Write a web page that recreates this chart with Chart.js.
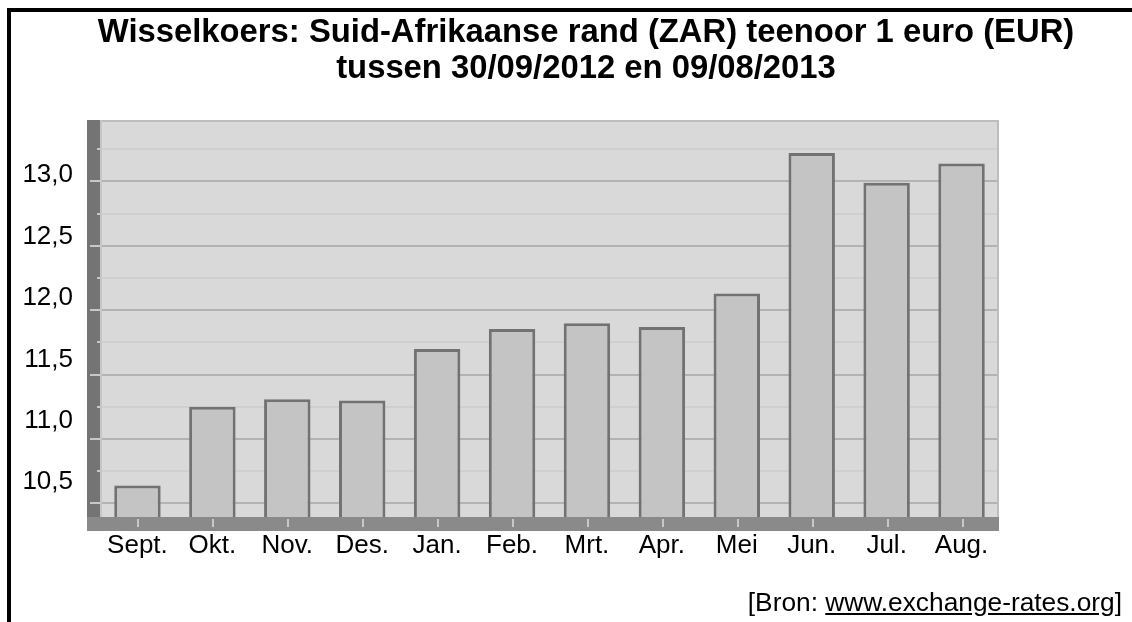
<!DOCTYPE html>
<html>
<head>
<meta charset="utf-8">
<script src="https://cdn.jsdelivr.net/npm/chart.js@4.4.1/dist/chart.umd.min.js"></script>
<style>
html,body{margin:0;padding:0;background:#fff;}
#wrap{position:relative;width:1132px;height:622px;overflow:hidden;font-family:"Liberation Sans",Arial,sans-serif;color:#000;}
#frame{position:absolute;left:7px;top:8px;width:1200px;height:700px;border-top:4px solid #000;border-left:4px solid #000;}
#title{position:absolute;left:0;width:1172px;top:13px;text-align:center;font-weight:bold;font-size:32.8px;line-height:36px;}
#src{position:absolute;right:10px;top:587px;font-size:26.3px;line-height:30px;white-space:nowrap;}
#src u{text-decoration:underline;}
canvas{position:absolute;left:0;top:0;}
</style>
</head>
<body>
<div id="wrap">
  <div id="frame"></div>
  <canvas id="c" width="1132" height="622"></canvas>
  <div id="title"></div>
  <div id="src"></div>
</div>
<script>
// ---- data ----
const categories = ['Sept.', 'Okt.', 'Nov.', 'Des.', 'Jan.', 'Feb.', 'Mrt.', 'Apr.', 'Mei', 'Jun.', 'Jul.', 'Aug.'];
const rates = [10.64, 11.25, 11.31, 11.30, 11.70, 11.855, 11.90, 11.87, 12.13, 13.22, 12.99, 13.14];
const gridRange = [10.395, 13.477];   // value range of the plotted bars / grid
const labelRange = [10.216, 13.449];  // range of the printed tick-label column
const gridStep = 0.25;
const labelStep = 0.5;
const titleLines = ['Wisselkoers: Suid-Afrikaanse rand (ZAR) teenoor 1 euro (EUR)', 'tussen 30/09/2012 en 09/08/2013'];
const sourcePrefix = '[Bron: ';
const sourceLink = 'www.exchange-rates.org';
const sourceSuffix = ']';

// ---- text ----
document.getElementById('title').innerHTML = titleLines.join('<br>');
const src = document.getElementById('src');
src.appendChild(document.createTextNode(sourcePrefix));
const u = document.createElement('u'); u.textContent = sourceLink; src.appendChild(u);
src.appendChild(document.createTextNode(sourceSuffix));

const FONT = "'Liberation Sans', Arial, sans-serif";
const isMajor = v => Math.abs(v * 2 - Math.round(v * 2)) < 1e-6;

const decor = {
  id: 'decor',
  beforeDraw(chart) {
    const {ctx, chartArea: a} = chart;
    ctx.save();
    ctx.fillStyle = '#d9d9d9';
    ctx.fillRect(a.left, a.top, a.right - a.left, a.bottom - a.top);
    ctx.restore();
  },
  afterDatasetsDraw(chart) {
    const {ctx, chartArea: a, scales} = chart;
    ctx.save();
    ctx.strokeStyle = '#bdbdbd';
    ctx.lineWidth = 2;
    ctx.beginPath();
    ctx.moveTo(a.left, a.top + 1); ctx.lineTo(a.right - 1, a.top + 1); ctx.lineTo(a.right - 1, a.bottom);
    ctx.stroke();
    ctx.strokeStyle = '#c6c6c6';
    ctx.beginPath(); ctx.moveTo(a.left + 1, a.top); ctx.lineTo(a.left + 1, a.bottom); ctx.stroke();
    ctx.fillStyle = '#747474';
    ctx.fillRect(a.left - 13, a.top, 13, a.bottom - a.top);
    ctx.fillStyle = '#8a8a8a';
    ctx.fillRect(a.left - 13, a.bottom, a.right - a.left + 13, 14);
    ctx.strokeStyle = '#c8c8c8';
    ctx.lineWidth = 2;
    scales.y.ticks.forEach(t => {
      const y = Math.round(scales.y.getPixelForValue(t.value));
      const len = isMajor(t.value) ? 10 : 3;
      ctx.beginPath(); ctx.moveTo(a.left - len, y); ctx.lineTo(a.left, y); ctx.stroke();
    });
    categories.forEach((c, i) => {
      const x = Math.round(scales.x.getPixelForValue(i)) + 1;
      ctx.beginPath(); ctx.moveTo(x, a.bottom + 2); ctx.lineTo(x, a.bottom + 10); ctx.stroke();
    });
    ctx.restore();
  }
};

new Chart(document.getElementById('c'), {
  type: 'bar',
  data: {
    labels: categories,
    datasets: [{
      data: rates,
      backgroundColor: '#c4c4c4',
      borderColor: '#727272',
      borderWidth: 3,
      barPercentage: 0.62,
      categoryPercentage: 1
    }]
  },
  options: {
    responsive: false,
    devicePixelRatio: 1,
    animation: false,
    layout: {padding: {left: 15, right: 133, top: 120, bottom: 55}},
    plugins: {legend: {display: false}, tooltip: {enabled: false}, title: {display: false}},
    scales: {
      x: {
        grid: {display: false, drawTicks: false},
        border: {display: false},
        ticks: {color: '#000', font: {family: FONT, size: 26}, padding: 13, autoSkip: false, maxRotation: 0},
        afterFit: s => { s.height = 50; }
      },
      y: {
        position: 'left',
        weight: 0,
        min: gridRange[0], max: gridRange[1],
        ticks: {display: false, stepSize: gridStep, includeBounds: false},
        grid: {
          drawTicks: false,
          lineWidth: 2,
          color: ctx => (ctx.tick && isMajor(ctx.tick.value)) ? '#b3b3b3' : '#cfcfcf'
        },
        border: {display: false},
        afterFit: s => { s.width = 13; }
      },
      yl: {
        type: 'linear',
        position: 'left',
        weight: 1,
        min: labelRange[0], max: labelRange[1],
        grid: {display: false, drawTicks: false},
        border: {display: false},
        ticks: {
          stepSize: labelStep, includeBounds: false, color: '#000', padding: 14,
          font: {family: FONT, size: 26},
          callback: v => v.toFixed(1).replace('.', ',')
        },
        afterFit: s => { s.width = 72; }
      }
    }
  },
  plugins: [decor]
});
</script>
</body>
</html>
